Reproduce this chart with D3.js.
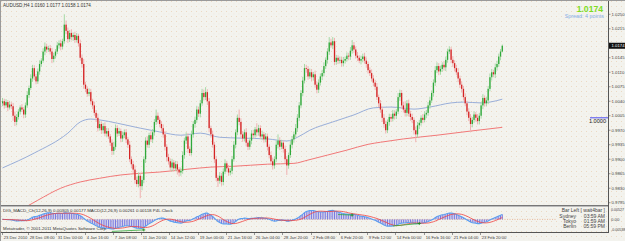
<!DOCTYPE html>
<html><head><meta charset="utf-8">
<script src="https://cdn.jsdelivr.net/npm/d3@7"></script>
<style>
html,body{margin:0;padding:0;background:#f3f3ee;overflow:hidden}
svg{display:block}
text{font-family:"Liberation Sans",Arial,sans-serif}
</style>
</head><body>
<svg id="c" width="625" height="241"></svg>
<script>
// ---------------- DATA ----------------
const symbol = "AUDUSD,H4";
const firstOpen = 10035; // pips (price * 10000)
const closes = [
10040,10030,10038,10025,10032,10028,10005,9990,10002,10015,
10025,10020,10008,10030,10055,10072,10095,10120,10100,10088,
10112,10130,10138,10160,10172,10165,10168,10160,10142,10150,
10160,10175,10180,10172,10185,10225,10210,10190,10205,10195,
10200,10188,10198,10180,10145,10130,10080,10070,10058,10062,
10040,10030,10012,10000,9975,9985,9970,9980,9962,9968,
9955,9940,9920,9930,9975,9962,9968,9950,9958,9965,
9948,9935,9900,9888,9875,9850,9840,9860,9835,9850,
9900,9945,9935,9958,9948,9965,9990,10005,9995,9985,
9975,9960,9930,9905,9895,9880,9892,9878,9888,9875,
9868,9872,9910,9945,9955,9925,9915,9960,9985,9995,
10020,10010,10035,10060,10050,10062,10040,9975,9960,9935,
9900,9855,9848,9860,9845,9870,9890,9878,9868,9872,
9900,9935,9965,10000,9990,9960,9950,9965,9940,9930,
9945,9962,9958,9972,9965,9975,9955,9960,9948,9955,
9930,9910,9895,9885,9900,9935,9945,9930,9940,9925,
9900,9885,9910,9935,9948,9960,9975,10000,10030,10060,
10090,10120,10118,10100,10110,10098,10105,10080,10068,10085,
10100,10108,10125,10140,10160,10182,10175,10185,10135,10145,
10138,10140,10132,10138,10142,10150,10148,10162,10175,10165,
10150,10145,10138,10142,10148,10138,10130,10115,10108,10095,
10085,10075,10050,10035,10020,10000,9985,9970,9990,10002,
9998,10010,10005,10015,10050,10060,10030,10020,10012,10035,
10010,10002,9995,9970,9960,9982,9988,10000,9995,10008,
10012,10030,10042,10060,10085,10115,10125,10112,10118,10128,
10122,10140,10160,10165,10140,10132,10120,10110,10095,10080,
10070,10050,10035,10015,10000,9985,9995,10008,10000,9992,
10005,10030,10048,10035,10042,10070,10098,10110,10105,10122,
10130,10148,10160,10174
];
const wickUp = [
8,6,7,5,9,6,8,10,7,6, 5,8,6,7,9,6,10,8,7,6, 7,9,6,8,10,7,6,8,9,7,
6,8,7,9,6,25,10,8,7,9, 6,8,7,5,9,8,12,7,6,9, 8,6,9,7,10,8,6,7,9,8,
7,6,8,12,9,7,8,6,9,7, 8,6,9,7,8,10,7,8,6,9, 7,8,10,6,9,8,7,15,8,6,
7,9,8,6,8,7,9,6,8,7, 6,8,9,7,10,8,6,9,7,8, 9,7,8,10,8,12,7,8,6,9,
7,8,6,9,7,8,10,6,8,7, 8,9,7,8,20,9,8,7,10,6, 7,8,9,6,15,8,7,9,6,8,
7,6,8,9,7,10,15,8,7,6, 8,7,6,9,8,7,10,9,8,7, 9,10,8,7,9,8,6,9,7,8,
7,8,9,6,8,13,9,10,8,7, 6,8,7,9,6,8,7,9,13,8, 7,9,6,8,7,9,8,6,7,9,
8,7,9,6,8,7,9,8,6,8, 7,9,8,6,10,8,7,9,20,8, 9,7,8,6,9,8,7,6,9,8,
7,8,9,6,8,10,9,7,8,6, 9,8,7,8,6,9,7,8,10,7, 8,7,9,6,8,9,7,8,6,9,
7,8,9,6,8,7,9,8,6,9, 8,7,6,3
];
const wickDn = [
7,8,6,9,5,7,12,10,8,6, 7,6,9,8,6,7,5,8,9,7, 6,8,7,5,9,8,6,7,10,8,
7,6,8,9,7,6,8,9,7,8, 9,7,6,8,7,9,10,8,7,6, 8,9,7,10,8,6,9,8,7,9,
6,8,10,9,7,8,6,9,8,7, 9,8,7,10,8,9,7,8,29,10, 8,9,7,8,6,9,8,7,9,8,
7,8,9,10,8,7,9,8,7,12, 10,8,7,9,8,10,7,6,8,9, 7,8,9,6,8,7,9,10,8,7,
9,8,15,7,9,8,6,9,8,7, 8,6,9,7,8,9,8,7,9,8, 7,9,8,6,9,8,7,9,8,7,
9,8,7,10,8,7,9,8,6,9, 10,23,8,7,9,8,7,9,8,7, 8,7,9,8,6,9,8,7,9,8,
7,9,8,7,9,8,6,9,8,7, 8,7,9,8,7,6,9,8,7,8, 7,8,6,9,8,7,9,8,7,6,
9,8,7,9,8,10,9,8,7,9, 8,7,9,8,6,9,8,7,9,8, 7,9,8,10,19,8,9,7,8,6,
9,7,8,6,9,8,7,9,8,7, 8,9,7,6,8,9,8,7,9,8, 9,8,7,9,8,20,8,7,9,8,
8,7,9,8,7,9,6,8,7,9, 8,7,9,2
];
// moving averages read at bar positions: [barIndex, price in pips]
const blueMA = [[0,9879],[18,9915],[37,9963],[44,9990],[50,9997],[55,9995],[65,9987],[78,9975],
  [89,9966],[101,9958],[112,9963],[123,9953],[135,9951],[150,9949],[161,9944],[167,9953],
  [174,9970],[187,9990],[199,10007],[210,10024],[220,10026],[233,10021],[242,10026],
  [254,10036],[261,10038],[271,10036],[276,10038],[283,10045]];
const redMA = [[5,9765],[10,9777],[20,9801],[33,9830],[44,9845],[55,9854],[67,9862],[78,9866],
  [89,9869],[105,9876],[118,9881],[131,9883],[150,9888],[165,9890],[173,9898],[184,9910],
  [195,9922],[207,9936],[214,9941],[227,9949],[246,9958],[265,9968],[283,9977]];
const priceTicks = [1.0250,1.0215,1.0180,1.0145,1.0110,1.0075,1.0040,1.0005,0.9970,0.9935,0.9900,0.9865,0.9830,0.9795];
const macdTicks = [0.00527,0,-0.00538];
const macdTickLabels = ["0.00527","0.00","-0.00538"];
const dateLabels = ["23 Dec 2010","28 Dec 08:00","31 Dec 00:00","4 Jan 16:00","7 Jan 08:00","11 Jan 20:00",
  "14 Jan 12:00","19 Jan 00:00","21 Jan 16:00","26 Jan 04:00","28 Jan 20:00","2 Feb 08:00",
  "6 Feb 20:00","9 Feb 12:00","14 Feb 00:00","16 Feb 16:00","21 Feb 04:00","23 Feb 20:00"];
const dateLabelBars = [0,15,31,47,63,79,95,111,127,143,159,175,191,207,223,239,255,271];
const hLineLevel = 1.0000;
const divergences = [[62,-0.0064,80,-0.0056],[190,0.0026,198,0.0023],[221,-0.0035,236,-0.0022]];
const spreadText = "Spread: 4 points";
const clockRows = [["Sydney","03:59 AM"],["Tokyo","01:59 AM"],["Berlin","05:59 PM"]];
const macdTitle = "DIG_MACD_Ch(12,26,9) 0.00305 0.00177   MACD(12,26,9) 0.00261 0.00118   P4L Clock";
const copyright = "Metatrader, \u00A9 2001-2011 MetaQuotes Software Corp.";

// ---------------- DERIVED BARS ----------------
const bars = closes.map((c,i)=>{
  const o = i===0 ? firstOpen : closes[i-1];
  return {i, o:o/1e4, c:c/1e4, h:(Math.max(o,c)+wickUp[i])/1e4, l:(Math.min(o,c)-wickDn[i])/1e4};
});
function ema(a,n){const k=2/(n+1);let e=a[0];return a.map((v,i)=>(e=i?v*k+e*(1-k):v));}
const cp = closes.map(c=>c/1e4);
const e12=ema(cp,12), e26=ema(cp,26);
const macd=e12.map((v,i)=>v-e26[i]);
const signal=macd.map((v,i)=>{const s=macd.slice(Math.max(0,i-8),i+1);return d3.mean(s);});

// ---------------- LAYOUT ----------------
const W=625,H=241, L=2, R=608, mTop=3, mBot=205, dTop=207, dBot=232;
const svg=d3.select("#c");
const defs=svg.append("defs");
const pat=defs.append("pattern").attr("id","dots").attr("width",5).attr("height",5).attr("patternUnits","userSpaceOnUse");
pat.append("rect").attr("width",5).attr("height",5).attr("fill","#f3f3ee");
pat.append("rect").attr("x",1).attr("y",1).attr("width",1).attr("height",1).attr("fill","#ecd9c2");
pat.append("rect").attr("x",3.5).attr("y",3.5).attr("width",0.8).attr("height",0.8).attr("fill","#efe3d3");
defs.append("clipPath").attr("id","cm").append("rect").attr("x",L).attr("y",mTop).attr("width",R-L).attr("height",mBot-mTop);
defs.append("clipPath").attr("id","cd").append("rect").attr("x",L).attr("y",dTop).attr("width",R-L).attr("height",dBot-dTop);
svg.append("rect").attr("width",W).attr("height",H).attr("fill","url(#dots)");

const x=d3.scaleLinear().domain([0,283]).range([2.5,502.3]);
const y=d3.scaleLinear().domain([0.9795,1.0250]).range([202.7,14.3]);
const ym=d3.scaleLinear().domain([-0.00538,0.00527]).range([229.5,209.5]);

// frame
svg.append("line").attr("x1",0).attr("x2",W).attr("y1",0.5).attr("y2",0.5).attr("stroke","#9a9a9a");
svg.append("line").attr("x1",0.5).attr("x2",0.5).attr("y1",0).attr("y2",H).attr("stroke","#9a9a9a");
svg.append("line").attr("x1",R+0.5).attr("x2",R+0.5).attr("y1",1).attr("y2",dBot+1).attr("stroke","#555");
svg.append("line").attr("x1",1).attr("x2",R).attr("y1",mBot+0.5).attr("y2",mBot+0.5).attr("stroke","#777");
svg.append("line").attr("x1",1).attr("x2",R).attr("y1",mBot+1.5).attr("y2",mBot+1.5).attr("stroke","#bbb");
svg.append("line").attr("x1",1).attr("x2",R+1).attr("y1",dBot+0.5).attr("y2",dBot+0.5).attr("stroke","#555");

// main pane
const gm=svg.append("g").attr("clip-path","url(#cm)");
const line=d3.line().x(d=>x(d[0])).y(d=>y(d[1]/1e4)).curve(d3.curveMonotoneX);
gm.append("path").attr("d",line(redMA)).attr("fill","none").attr("stroke","#f06a6a").attr("stroke-width",0.9);
gm.append("path").attr("d",line(blueMA)).attr("fill","none").attr("stroke","#8fa6d6").attr("stroke-width",0.9);
const cg=gm.selectAll("g.k").data(bars).enter().append("g");
cg.append("line").attr("x1",d=>x(d.i)).attr("x2",d=>x(d.i)).attr("y1",d=>y(d.h)).attr("y2",d=>y(d.l))
  .attr("stroke",d=>d.c>=d.o?"#a6d9a6":"#f0b2b2").attr("stroke-width",1);
cg.append("rect").attr("x",d=>x(d.i)-0.65).attr("width",1.3)
  .attr("y",d=>y(Math.max(d.o,d.c))).attr("height",d=>Math.max(0.8,Math.abs(y(d.o)-y(d.c))))
  .attr("fill",d=>d.c>=d.o?"#2fa83a":"#d42424");
// 1.0000 line
gm.append("line").attr("x1",590).attr("x2",R).attr("y1",y(hLineLevel)).attr("y2",y(hLineLevel)).attr("stroke","#4b4bf0").attr("stroke-width",1);
svg.append("text").attr("x",606).attr("y",y(hLineLevel)+5.5).attr("text-anchor","end").attr("font-size",5.6).attr("fill","#222").text(d3.format(".4f")(hLineLevel));

// price axis
const last=bars[bars.length-1];
const visTicks=priceTicks.filter(d=>Math.abs(y(d)-y(last.c))>4.5); // label under the price box is hidden
svg.selectAll("t.p").data(priceTicks).enter().append("line").attr("x1",R).attr("x2",R+2.5).attr("y1",d=>y(d)).attr("y2",d=>y(d)).attr("stroke","#555").attr("stroke-width",0.6);
svg.selectAll("text.p").data(visTicks).enter().append("text").attr("x",611.5).attr("y",d=>y(d)+1.5)
  .attr("font-size",4.3).attr("fill","#444").text(d=>d3.format(".4f")(d));
svg.append("rect").attr("x",R+1).attr("y",y(last.c)-3).attr("width",W-R-1).attr("height",6).attr("fill","#111");
svg.append("text").attr("x",611.5).attr("y",y(last.c)+1.6).attr("font-size",4.3).attr("fill","#fff").text(d3.format(".4f")(last.c));

// titles
const f4=d3.format(".4f");
svg.append("text").attr("x",3).attr("y",6.6).attr("font-size",4.6).attr("fill","#333")
  .text(`${symbol}  ${f4(last.o)} ${f4(last.h)} ${f4(last.l)} ${f4(last.c)}`);
svg.append("text").attr("x",603).attr("y",11.5).attr("text-anchor","end").attr("font-size",8.6).attr("font-weight","bold").attr("fill","#7ddc1f").text(f4(last.c));
svg.append("text").attr("x",604).attr("y",17.5).attr("text-anchor","end").attr("font-size",5.4).attr("fill","#86aee6").text(spreadText);

// MACD pane
const gd=svg.append("g").attr("clip-path","url(#cd)");
gd.append("line").attr("x1",L).attr("x2",557).attr("y1",ym(0)).attr("y2",ym(0)).attr("stroke","#e3a27a").attr("stroke-width",0.7).attr("stroke-dasharray","1,1.5");
gd.selectAll("line.h").data(macd).enter().append("line").attr("x1",(d,i)=>x(i)).attr("x2",(d,i)=>x(i))
  .attr("y1",ym(0)).attr("y2",d=>ym(d)).attr("stroke","#6a6ae0").attr("stroke-width",0.9);
const ml=d3.line().x((d,i)=>x(i)).y(d=>ym(d));
gd.append("path").attr("d",ml(macd)).attr("fill","none").attr("stroke","#5aa0f0").attr("stroke-width",1.1);
gd.append("path").attr("d",ml(signal)).attr("fill","none").attr("stroke","#f04040").attr("stroke-width",0.8);
divergences.forEach(dv=>{
  gd.append("line").attr("x1",x(dv[0])).attr("x2",x(dv[2])).attr("y1",ym(dv[1])).attr("y2",ym(dv[3])).attr("stroke","#2fa83a").attr("stroke-width",0.8);
  gd.append("path").attr("d",`M${x(dv[2])-1.5},${ym(dv[3])}h3M${x(dv[2])},${ym(dv[3])-1.5}v3`).attr("stroke","#1a8a1a").attr("stroke-width",0.8);
});
svg.append("text").attr("x",3).attr("y",212).attr("font-size",4.4).attr("fill","#333").text(macdTitle);
svg.append("text").attr("x",3).attr("y",230).attr("font-size",4.4).attr("fill","#333").text(copyright);
svg.selectAll("text.m").data(macdTicks).enter().append("text").attr("x",611).attr("y",d=>ym(d)+1.5)
  .attr("font-size",d=>d===0?4.3:3.6).attr("fill","#444").text((d,i)=>macdTickLabels[i]);
// clock block
svg.append("text").attr("x",605).attr("y",212).attr("text-anchor","end").attr("font-size",5).attr("fill","#444").text("Bar Left  [ wait4bar ]");
clockRows.forEach((r,k)=>{
  svg.append("text").attr("x",576).attr("y",217.5+k*5.2).attr("text-anchor","end").attr("font-size",5).attr("fill","#444").text(r[0]);
  svg.append("text").attr("x",605).attr("y",217.5+k*5.2).attr("text-anchor","end").attr("font-size",5).attr("fill","#444").text(r[1]);
});

// time axis
dateLabelBars.forEach((b,k)=>{
  const xx=Math.round(x(b))-0.5;
  svg.append("line").attr("x1",xx).attr("x2",xx).attr("y1",dBot).attr("y2",dBot+3).attr("stroke","#555").attr("stroke-width",0.6);
  svg.append("text").attr("x",xx+1.2).attr("y",239).attr("font-size",4.2).attr("fill","#444").text(dateLabels[k]);
});
</script>
</body></html>
